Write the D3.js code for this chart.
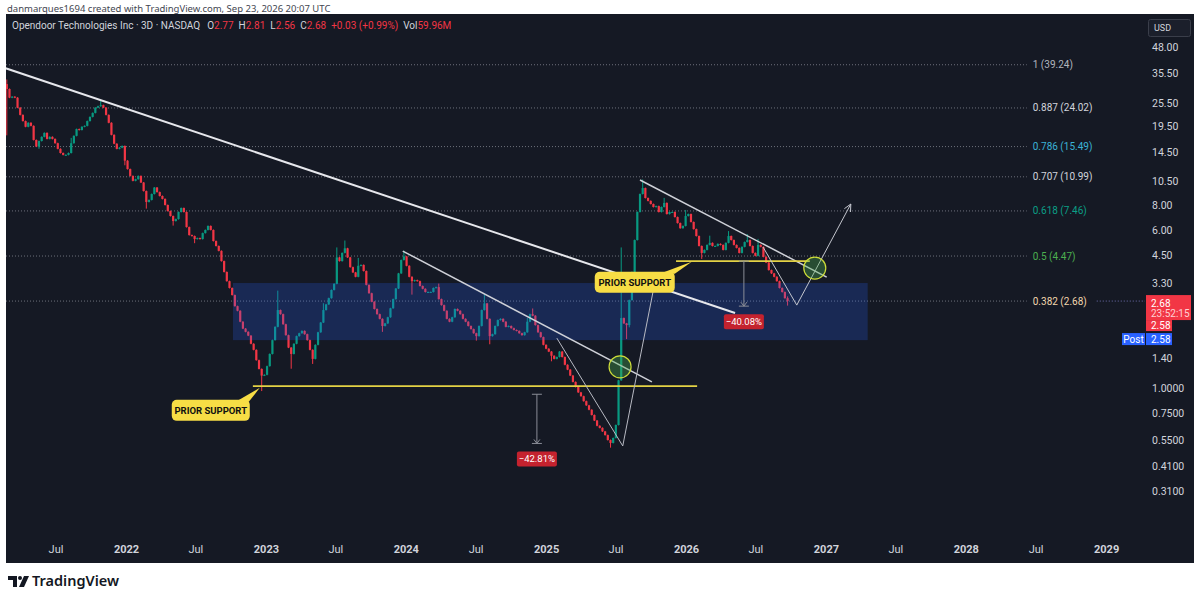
<!DOCTYPE html>
<html><head><meta charset="utf-8">
<script src="https://cdn.jsdelivr.net/npm/d3@7"></script>
<style>
html,body{margin:0;padding:0;background:#fff;}
svg{display:block;font-family:Roboto,"Noto Sans",sans-serif;}
</style></head><body>
<svg id="c" width="1200" height="600"></svg>
<script>
// ---------------- DATA ----------------
const lastBarDate = "2026-09-23";
const barDays = 7;
const firstOpen = 31.5;
const closes = [
29.8,27.0,27.3,27.0,24.1,22.2,20.7,19.4,20.3,19.6,
16.7,15.5,16.5,17.3,18.1,16.9,17.3,16.9,16.1,15.1,
14.4,14.1,14.1,14.4,16.1,17.5,18.9,18.7,19.4,19.6,
20.7,21.7,22.7,24.1,24.5,24.8,24.1,22.2,20.3,17.7,
16.0,15.1,15.3,15.6,13.2,12.0,11.1,10.5,10.7,11.1,
10.3,9.35,8.26,8.45,9.04,9.73,9.24,8.84,8.55,7.98,
7.45,7.04,6.65,6.80,7.37,7.71,7.37,6.21,5.67,5.61,
5.42,5.48,5.42,5.80,6.01,6.29,6.01,5.30,5.01,4.74,
4.22,3.73,3.36,3.11,2.87,2.53,2.40,2.12,1.96,1.89,
1.81,1.65,1.54,1.37,1.24,1.15,1.16,1.28,1.47,1.72,
2.00,2.42,2.31,2.06,1.82,1.58,1.47,1.65,1.80,1.86,
1.91,1.84,1.72,1.54,1.39,1.63,1.88,2.10,2.42,2.58,
2.77,3.04,3.26,4.40,4.22,4.63,4.88,4.40,3.94,3.71,
3.53,4.00,4.04,3.77,3.22,2.93,2.66,2.45,2.31,2.19,
2.02,2.08,2.23,2.47,2.74,3.09,3.67,4.27,4.45,4.00,
3.53,3.36,3.40,3.36,3.18,3.08,2.97,2.97,2.97,3.11,
3.14,2.74,2.56,2.40,2.19,2.12,2.23,2.45,2.40,2.31,
2.19,2.12,2.02,1.95,1.86,1.80,2.02,2.42,2.61,2.19,
1.80,1.84,2.02,2.16,2.19,2.12,2.00,2.02,1.97,1.93,
1.91,1.86,1.82,1.88,2.12,2.31,2.27,2.04,1.88,1.78,
1.63,1.56,1.51,1.44,1.39,1.42,1.51,1.42,1.30,1.23,
1.15,1.07,1.01,0.95,0.91,0.86,0.82,0.78,0.735,0.69,
0.65,0.635,0.61,0.585,0.553,0.535,0.566,0.656,1.09,2.21,
2.08,2.04,2.71,3.73,5.36,7.37,9.04,9.67,8.64,8.36,
8.07,7.80,7.88,7.37,7.80,8.17,7.20,7.37,7.37,6.96,
6.50,6.13,6.29,7.04,7.20,6.58,6.07,5.61,5.01,4.63,
4.79,5.07,5.19,5.01,5.01,5.13,5.07,4.79,5.19,5.61,
5.36,5.07,4.90,4.63,4.96,5.24,5.36,5.01,4.63,4.48,
5.07,4.96,4.43,4.15,3.81,3.67,3.53,3.36,3.11,2.97,
2.77,2.68];
const wickIdx  = [0,12,24,35,44,52,62,70,87,95,101,106,114,118,123,126,131,140,148,151,161,175,178,180,194,196,203,225,229,231,232,237,245,253,259,262,269,276,280,291];
const wickHigh = [33,null,17.0,25.9,null,null,null,null,2.35,null,3.0,null,null,2.6,4.9,5.3,4.35,null,4.72,null,3.25,null,2.87,null,2.2,2.45,null,null,4.9,null,null,10.6,8.6,7.5,null,5.6,5.9,5.7,5.4,2.81];
const wickLow  = [17.7,15.2,null,null,12.6,7.7,6.35,5.2,null,0.97,null,1.25,1.32,null,null,null,null,1.9,null,2.9,null,1.72,null,1.65,null,null,1.36,0.51,null,1.75,2.0,null,null,null,4.35,null,null,null,null,2.56];

const priceTicks = [48,35.5,25.5,19.5,14.5,10.5,8,6,4.5,3.3,1.4,1,0.75,0.55,0.41,0.31];
const timeTickDates = ["2021-07-01","2022-01-01","2022-07-01","2023-01-01","2023-07-01","2024-01-01","2024-07-01","2025-01-01","2025-07-01","2026-01-01","2026-07-01","2027-01-01","2027-07-01","2028-01-01","2028-07-01","2029-01-01"];
const timeTickLabels = ["Jul","2022","Jul","2023","Jul","2024","Jul","2025","Jul","2026","Jul","2027","Jul","2028","Jul","2029"];

const fibRatios = ["1","0.887","0.786","0.707","0.618","0.5","0.382"];
const fibPrices = [39.24,24.02,15.49,10.99,7.46,4.47,2.68];
const fibEndDate = "2028-06-08";

const trendStart = [["2021-02-19",37.8],["2023-12-24",4.73],["2025-09-03",10.6]];
const trendEnd   = [["2026-05-09",2.34],["2025-10-04",1.07],["2027-01-03",3.52]];
const supportStart = [["2022-11-28",1.02],["2025-12-06",4.22]];
const supportEnd   = [["2026-01-30",1.02],["2026-11-20",4.22]];
const zoneCorners = [["2022-10-07",3.29],["2027-04-20",1.72]];
const circleCenters = [["2025-07-13",1.27],["2026-12-03",3.90]];
const legLines = [[["2025-01-29",1.76],["2025-07-20",0.517]],[["2025-07-20",0.517],["2025-10-12",3.33]]];
const projection = [["2026-07-21",4.95],["2026-10-17",2.56],["2027-03-07",8.07]];
const measureDates = ["2024-12-08","2026-06-01"];
const measureFrom = [0.93,4.22];
const measureTo = [0.532,2.53];
const measureLabels = ["\u221242.81%","\u221240.08%"];
const calloutDates = ["2022-12-16","2026-01-16"];
const calloutPrices = [1.0,4.19];
const calloutText = "PRIOR SUPPORT";

const legendTitle = "Opendoor Technologies Inc \u00b7 3D \u00b7 NASDAQ";
const legendKeys = ["O","H","L","C"];
const legendVals = ["2.77","2.81","2.56","2.68"];
const legendChange = "+0.03 (+0.99%)";
const legendVol = "59.96M";
const lastPrice = 2.68, postPrice = 2.58, countdown = "23:52:15";

// ---------------- SETUP ----------------
const parse = d3.utcParse("%Y-%m-%d");
const svg = d3.select("#c");
const UP = "#089981", DOWN = "#f23645", BG = "#151924", TXT = "#d1d4dc";
const plot = {l:6, t:14, r:1145, b:538};

const x = d3.scaleUtc().domain([parse("2022-01-01"), parse("2026-01-01")]).range([126, 686]);
const y = d3.scaleLog().domain([0.31, 48]).range([491, 47]);
const P = p => [x(parse(p[0])), y(p[1])];

// header
svg.append("text").attr("x",7).attr("y",12).attr("font-size",9.5).attr("fill","#434651")
  .attr("font-family","'Noto Sans',sans-serif")
  .text("danmarques1694 created with TradingView.com, Sep 23, 2026 20:07 UTC");
svg.append("rect").attr("x",6).attr("y",14).attr("width",1188).attr("height",549).attr("fill",BG);

svg.append("defs").append("clipPath").attr("id","pc").append("rect")
  .attr("x",plot.l).attr("y",plot.t).attr("width",plot.r-plot.l).attr("height",plot.b-plot.t);
const g = svg.append("g").attr("clip-path","url(#pc)");

// fib lines
const fibColors = ["#b2b5be","#d1d4dc","#3bb3d6","#d1d4dc","#0b9f86","#4caf50","#f2d6ae"];
fibPrices.forEach((p,i)=>{
  g.append("line").attr("x1",plot.l).attr("x2",x(parse(fibEndDate))).attr("y1",y(p)).attr("y2",y(p))
    .attr("stroke","#6d707b").attr("stroke-width",1).attr("stroke-dasharray","1,2");
  svg.append("text").attr("x",x(parse(fibEndDate))+6).attr("y",y(p)).attr("dy","0.35em")
    .attr("font-size",10).attr("fill",fibColors[i]).text(`${fibRatios[i]} (${p.toFixed(2)})`);
});
// last price line
g.append("line").attr("x1",x(parse(fibEndDate))+70).attr("x2",plot.r).attr("y1",y(lastPrice)).attr("y2",y(lastPrice))
  .attr("stroke","#6e6fb0").attr("stroke-width",1).attr("stroke-dasharray","1,2");

// bars
const lastD = parse(lastBarDate);
const bars = closes.map((c,i)=>{
  const o = i ? closes[i-1] : firstOpen;
  return {date:d3.utcDay.offset(lastD, -(closes.length-1-i)*barDays), open:o, close:c,
          high:Math.max(o,c), low:Math.min(o,c)};
});
wickIdx.forEach((bi,k)=>{
  if (wickHigh[k]!=null) bars[bi].high = Math.max(bars[bi].high, wickHigh[k]);
  if (wickLow[k]!=null) bars[bi].low = Math.min(bars[bi].low, wickLow[k]);
});
bars[bars.length-1].open = +legendVals[0];
const cg = g.append("g");
cg.selectAll("line").data(bars).join("line")
  .attr("x1",d=>x(d.date)).attr("x2",d=>x(d.date))
  .attr("y1",d=>y(d.high)-0.5).attr("y2",d=>y(d.low)+0.5)
  .attr("stroke",d=>d.close>=d.open?UP:DOWN).attr("stroke-width",1);
cg.selectAll("rect").data(bars).join("rect")
  .attr("x",d=>x(d.date)-1.1).attr("width",2.2)
  .attr("y",d=>y(Math.max(d.open,d.close)))
  .attr("height",d=>Math.max(1, y(Math.min(d.open,d.close))-y(Math.max(d.open,d.close))))
  .attr("fill",d=>d.close>=d.open?UP:DOWN);

// zone
const z0 = P(zoneCorners[0]), z1 = P(zoneCorners[1]);
g.append("rect").attr("x",z0[0]).attr("y",z0[1]).attr("width",z1[0]-z0[0]).attr("height",z1[1]-z0[1])
  .attr("fill","rgba(41,98,255,0.22)");

// trend lines
const trendW = [2,1.5,1.5], trendC = ["#e6e7ec","#cfd1d8","#cfd1d8"];
trendStart.forEach((s,i)=>{
  const a=P(s), b=P(trendEnd[i]);
  g.append("line").attr("x1",a[0]).attr("y1",a[1]).attr("x2",b[0]).attr("y2",b[1])
    .attr("stroke",trendC[i]).attr("stroke-width",trendW[i]);
});
// support lines
supportStart.forEach((s,i)=>{
  const a=P(s), b=P(supportEnd[i]);
  g.append("line").attr("x1",a[0]).attr("y1",a[1]).attr("x2",b[0]).attr("y2",b[1])
    .attr("stroke","#e3d245").attr("stroke-width",1.6);
});
// leg lines
legLines.forEach(l=>{
  const a=P(l[0]), b=P(l[1]);
  g.append("line").attr("x1",a[0]).attr("y1",a[1]).attr("x2",b[0]).attr("y2",b[1])
    .attr("stroke","#b8bac3").attr("stroke-width",1);
});
// projection
const pp = projection.map(P);
g.append("path").attr("d",d3.line()(pp)).attr("fill","none").attr("stroke","#c4c6ce").attr("stroke-width",1);
{
  const a=pp[pp.length-2], b=pp[pp.length-1];
  const ang=Math.atan2(b[1]-a[1], b[0]-a[0]), L=8;
  const h1=[b[0]-L*Math.cos(ang-0.45), b[1]-L*Math.sin(ang-0.45)];
  const h2=[b[0]-L*Math.cos(ang+0.45), b[1]-L*Math.sin(ang+0.45)];
  g.append("path").attr("d",d3.line()([h1,b,h2])).attr("fill","none").attr("stroke","#c4c6ce").attr("stroke-width",1);
}
// circles
circleCenters.forEach(c=>{
  const p=P(c);
  g.append("circle").attr("cx",p[0]).attr("cy",p[1]).attr("r",11)
    .attr("fill","rgba(76,175,80,0.35)").attr("stroke","#cddc39").attr("stroke-width",1.2);
});
// measures
measureDates.forEach((d,i)=>{
  const mx=x(parse(d)), y1=y(measureFrom[i]), y2=y(measureTo[i]);
  const mg=g.append("g").attr("stroke","#8a8d97").attr("stroke-width",1).attr("fill","none");
  mg.append("line").attr("x1",mx).attr("x2",mx).attr("y1",y1).attr("y2",y2);
  mg.append("line").attr("x1",mx-5).attr("x2",mx+5).attr("y1",y1).attr("y2",y1);
  mg.append("line").attr("x1",mx-5).attr("x2",mx+5).attr("y1",y2).attr("y2",y2);
  mg.append("path").attr("d",`M${mx-3},${y2-4}L${mx},${y2}L${mx+3},${y2-4}`);
  g.append("rect").attr("x",mx-20).attr("y",y2+8).attr("width",40).attr("height",15).attr("rx",2)
    .attr("fill","#c4222e");
  g.append("text").attr("x",mx).attr("y",y2+15.5).attr("dy","0.35em").attr("text-anchor","middle")
    .attr("font-size",9.5).attr("fill","#fff").text(measureLabels[i]);
});
// callouts
const cBox = [{dx:-88,dy:12,w:78,h:21,t1:-24,t2:-11},{dx:-97,dy:10,w:80,h:21,t1:-32,t2:-17}];
calloutDates.forEach((d,i)=>{
  const tx=x(parse(d)), ty=y(calloutPrices[i]), b=cBox[i];
  const bx=tx+b.dx, by=ty+b.dy;
  g.append("path").attr("d",`M${tx+b.t1},${by+2}L${tx},${ty}L${tx+b.t2},${by+2}Z`).attr("fill","#f7dd45");
  g.append("rect").attr("x",bx).attr("y",by).attr("width",b.w).attr("height",b.h).attr("rx",5).attr("fill","#f7dd45");
  g.append("text").attr("x",bx+b.w/2).attr("y",by+b.h/2).attr("dy","0.36em").attr("text-anchor","middle")
    .attr("font-size",9.5).attr("font-weight","bold").attr("fill","#111").text(calloutText);
});

// axes
const fmt = d => d>=1.4 ? d.toFixed(2) : d.toFixed(4);
const ya = svg.append("g").attr("transform",`translate(${plot.r+1},0)`)
  .call(d3.axisRight(y).tickValues(priceTicks).tickFormat(fmt).tickSize(0).tickPadding(6));
ya.select(".domain").remove();
ya.selectAll("text").attr("fill",TXT).attr("font-size",10.5).attr("font-family","Roboto,sans-serif");

const xa = svg.append("g").attr("transform",`translate(0,539)`)
  .call(d3.axisBottom(x).tickValues(timeTickDates.map(parse)).tickFormat((d,i)=>timeTickLabels[i]).tickSize(0).tickPadding(6));
xa.select(".domain").remove();
xa.selectAll("text").attr("fill",TXT).attr("font-size",11).attr("font-family","Roboto,sans-serif")
  .attr("font-weight",(d,i)=>timeTickLabels[i]==="Jul"?400:700);

// USD box
svg.append("rect").attr("x",1148.5).attr("y",19.5).attr("width",42).attr("height",17).attr("rx",2)
  .attr("fill","#1b1f2b").attr("stroke","#3a3e4a");
svg.append("text").attr("x",1154).attr("y",28).attr("dy","0.35em").attr("font-size",9).attr("fill",TXT).text("USD");

// price tags
const ly = y(lastPrice);
svg.append("rect").attr("x",1146).attr("y",ly-6).attr("width",45).attr("height",25).attr("fill",DOWN);
svg.append("text").attr("x",1151).attr("y",ly+2).attr("dy","0.35em").attr("font-size",10).attr("fill","#fff").text(lastPrice.toFixed(2));
svg.append("text").attr("x",1151).attr("y",ly+12).attr("dy","0.35em").attr("font-size",10).attr("fill","#ffd0d4").text(countdown);
svg.append("rect").attr("x",1146).attr("y",ly+19).attr("width",26).attr("height",11).attr("fill",DOWN);
svg.append("text").attr("x",1151).attr("y",ly+24.5).attr("dy","0.35em").attr("font-size",10).attr("fill","#fff").text(postPrice.toFixed(2));
svg.append("rect").attr("x",1122).attr("y",ly+32).attr("width",23).attr("height",12).attr("fill","#2962ff");
svg.append("text").attr("x",1133.5).attr("y",ly+38).attr("dy","0.35em").attr("text-anchor","middle").attr("font-size",10).attr("fill","#fff").text("Post");
svg.append("rect").attr("x",1146).attr("y",ly+32).attr("width",26).attr("height",12).attr("fill","#2962ff");
svg.append("text").attr("x",1151).attr("y",ly+38).attr("dy","0.35em").attr("font-size",10).attr("fill","#fff").text(postPrice.toFixed(2));

// legend
const lg = svg.append("text").attr("x",12).attr("y",29).attr("font-size",10).attr("fill",TXT);
lg.append("tspan").text(legendTitle);
legendKeys.forEach((k,i)=>{
  lg.append("tspan").attr("dx",i?5:7).attr("fill",TXT).text(k);
  lg.append("tspan").attr("fill",DOWN).text(legendVals[i]);
});
lg.append("tspan").attr("dx",5).attr("fill",DOWN).text(legendChange);
lg.append("tspan").attr("dx",5).attr("fill",TXT).text("Vol");
lg.append("tspan").attr("fill",DOWN).text(legendVol);

// TradingView logo
const logo = svg.append("g").attr("fill","#131722");
logo.append("path").attr("d","M8,576h9v11h-4v-7h-5z");
logo.append("circle").attr("cx",20).attr("cy",578).attr("r",2);
logo.append("path").attr("d","M24,576h5l-5,11h-5z");
svg.append("text").attr("x",32).attr("y",586).attr("font-size",14.5).attr("font-weight",600)
  .attr("fill","#131722").attr("font-family","'Noto Sans',sans-serif").text("TradingView");
</script>
</body></html>
